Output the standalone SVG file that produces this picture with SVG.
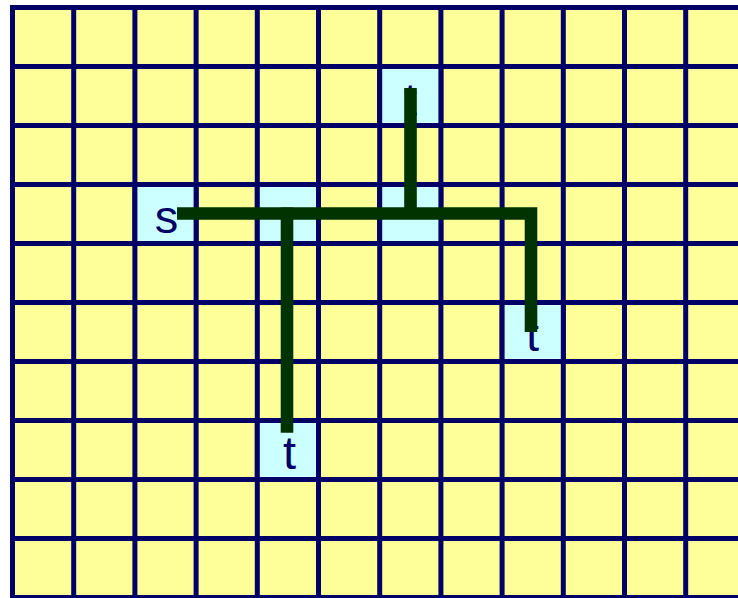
<svg xmlns="http://www.w3.org/2000/svg" width="738" height="598" viewBox="0 0 738 598">
<style>
.grid{stroke:#000066;stroke-width:5;fill:none}
.cell{fill:#CCFFFF;stroke:#000066;stroke-width:5}
.lbl{font-family:"Liberation Sans",Arial,sans-serif;font-size:47px;fill:#000066;text-anchor:middle}
.wire{stroke:#003300;stroke-width:12.6;fill:none;stroke-linecap:butt;stroke-linejoin:miter}
</style>
<rect x="12.5" y="7.5" width="740" height="590" fill="#FFFF99"/>
<g id="grid" class="grid">
<path d="M12.5,7.5V600M73.7,7.5V600M134.9,7.5V600M196.1,7.5V600M257.3,7.5V600M318.5,7.5V600M379.7,7.5V600M440.9,7.5V600M502.1,7.5V600M563.3,7.5V600M624.5,7.5V600M685.7,7.5V600"/>
<path d="M10,7.5H740M10,66.5H740M10,125.5H740M10,184.5H740M10,243.5H740M10,302.5H740M10,361.5H740M10,420.5H740M10,479.5H740M10,538.5H740M10,597.5H740"/>
</g>
<g id="node-s">
<rect class="cell" x="134.9" y="184.5" width="61.2" height="59"/>
<text class="lbl" x="166.5" y="232.5">s</text>
</g>
<g id="node-steiner1">
<rect class="cell" x="257.3" y="184.5" width="61.2" height="59"/>
</g>
<g id="node-steiner2">
<rect class="cell" x="379.7" y="184.5" width="61.2" height="59"/>
</g>
<g id="node-t1">
<rect class="cell" x="379.7" y="66.5" width="61.2" height="59"/>
<text class="lbl" x="410.5" y="115.5">t</text>
</g>
<g id="node-t2">
<rect class="cell" x="502.1" y="302.5" width="61.2" height="59"/>
<text class="lbl" x="532.5" y="350.5">t</text>
</g>
<g id="node-t3">
<rect class="cell" x="257.3" y="420.5" width="61.2" height="59"/>
<text class="lbl" x="289.5" y="468.5">t</text>
</g>
<g id="connectors" class="wire">
<path d="M177,213.5H531V332"/>
<path d="M287,207.5V432.7"/>
<path d="M410.5,88V213.5"/>
</g>
</svg>
